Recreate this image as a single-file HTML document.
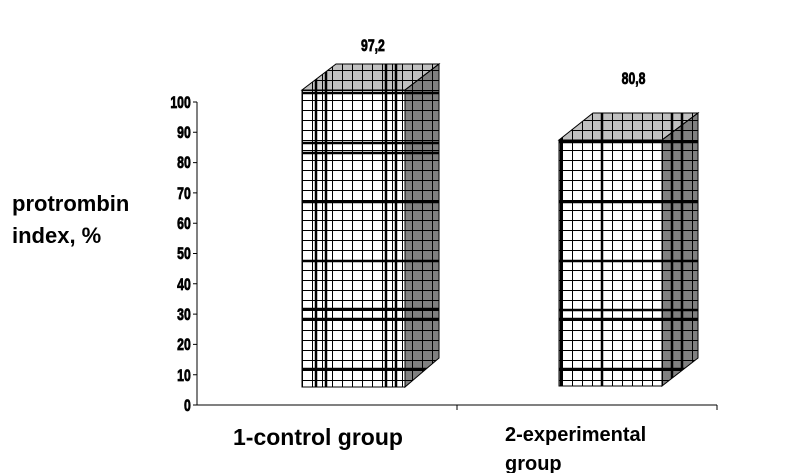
<!DOCTYPE html>
<html><head><style>html,body{margin:0;padding:0;background:#fff}</style></head>
<body>
<svg width="800" height="473" xmlns="http://www.w3.org/2000/svg" style="display:block">
<defs>
<pattern id="gf" x="302" y="90" width="10" height="10" patternUnits="userSpaceOnUse">
<rect width="10" height="10" fill="#fff"/><path d="M0 0.5H10M0.5 0V10" stroke="#000" stroke-width="1"/>
</pattern>
<pattern id="gs" x="302" y="90" width="10" height="10" patternUnits="userSpaceOnUse">
<rect width="10" height="10" fill="#808080"/><path d="M0 0.5H10M0.5 0V10" stroke="#000" stroke-width="1"/>
</pattern>
<pattern id="gt" x="302" y="90" width="10" height="10" patternUnits="userSpaceOnUse">
<rect width="10" height="10" fill="#c0c0c0"/><path d="M0 0.5H10M0.5 0V10" stroke="#000" stroke-width="1"/>
</pattern>
<clipPath id="c1"><polygon points="302,90 336,64 439,64 439,358 405,387 302,387"/></clipPath>
<clipPath id="c2"><polygon points="559,140 593,113 698,113 698,358 662,386 559,386"/></clipPath>
</defs>
<g font-family="Liberation Sans, sans-serif" font-weight="bold">
<text x="12" y="211" font-size="22">protrombin</text>
<text x="12" y="243" font-size="22">index, %</text>
</g>
<path d="M197 102V405H717M193 405H197M457 405V410M717 405V410" stroke="#000" fill="none"/>
<g stroke="#000">
<path d="M193 102H197M193 132.3H197M193 162.6H197M193 192.9H197M193 223.2H197M193 253.5H197M193 283.8H197M193 314.1H197M193 344.4H197M193 374.7H197"/>
</g>
<g font-family="Liberation Sans, sans-serif" font-weight="bold" font-size="17" text-anchor="end" transform="scale(0.72,1)" stroke="#000" stroke-width="0.8">
<text x="265" y="108">100</text><text x="265" y="138">90</text><text x="265" y="168">80</text><text x="265" y="199">70</text><text x="265" y="229">60</text><text x="265" y="259">50</text><text x="265" y="290">40</text><text x="265" y="320">30</text><text x="265" y="350">20</text><text x="265" y="381">10</text><text x="265" y="411">0</text>
<text x="518" y="51" text-anchor="middle">97,2</text>
<text x="880" y="84" text-anchor="middle">80,8</text>
</g>
<polygon points="302,90 405,90 439,64 336,64" fill="url(#gt)" stroke="#000"/>
<polygon points="405,90 439,64 439,358 405,387" fill="url(#gs)" stroke="#000"/>
<rect x="302" y="90" width="103" height="297" fill="url(#gf)" stroke="#000"/>
<g stroke="#000" stroke-width="2.5" clip-path="url(#c1)">
<path d="M316 60V390M326 60V390M386 60V390M396 60V390"/>
<path d="M302 93H439M302 143H439M302 153H439M302 202H439M302 261H439M302 309H439M302 319H439M302 369H439"/>
</g>
<path d="M302,90 405,90 439,64M405 90V387" stroke="#000" fill="none"/>
<polygon points="559,140 662,140 698,113 593,113" fill="url(#gt)" stroke="#000"/>
<polygon points="662,140 698,113 698,358 662,386" fill="url(#gs)" stroke="#000"/>
<rect x="559" y="140" width="103" height="246" fill="url(#gf)" stroke="#000"/>
<g stroke="#000" stroke-width="2.5" clip-path="url(#c2)">
<path d="M561 100V390M602 100V390M672 100V390M682 100V390"/>
<path d="M559 142H698M559 202H698M559 261H698M559 310H698M559 319H698M559 369H698"/>
</g>
<path d="M559,140 662,140 698,113M662 140V386" stroke="#000" fill="none"/>
<g font-family="Liberation Sans, sans-serif" font-weight="bold">
<text x="233" y="445" font-size="23">1-control group</text>
<text x="505" y="441" font-size="20">2-experimental</text>
<text x="505" y="470" font-size="20">group</text>
</g>
</svg>
</body></html>
